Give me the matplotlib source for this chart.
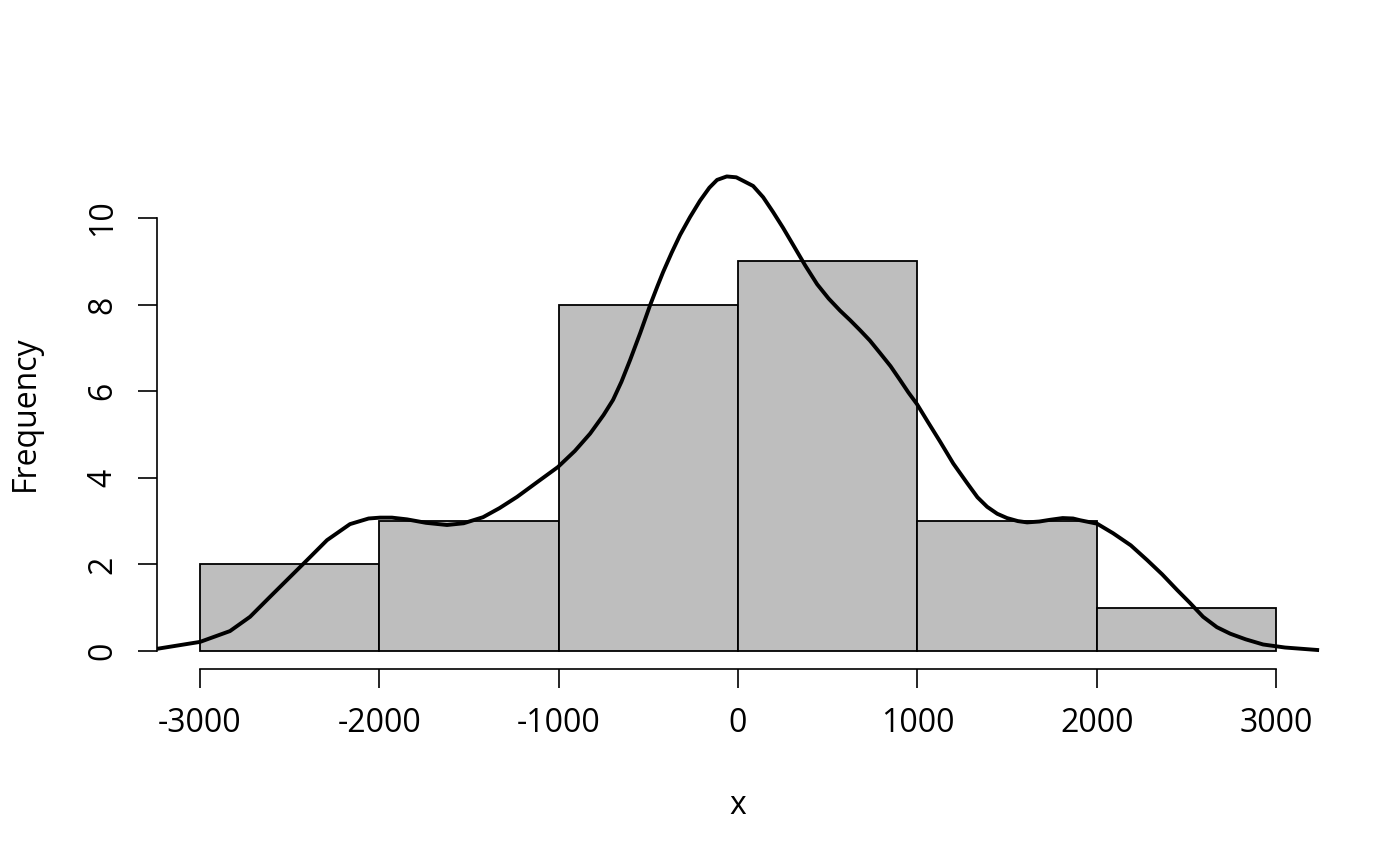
import matplotlib.pyplot as plt
import numpy as np

plt.rcParams['font.family'] = ['Open Sans', 'DejaVu Sans']

# histogram bins and counts
bin_edges = [-3000, -2000, -1000, 0, 1000, 2000, 3000]
counts = [2, 3, 8, 9, 3, 1]

# density curve (scaled to counts)
dens_x = [-3240, -3000, -2833, -2721, -2610, -2498, -2403, -2292, -2164, -2060,
          -1996, -1930, -1846, -1740, -1623, -1530, -1422, -1330, -1232, -1120,
          -1004, -910, -825, -750, -697, -650, -602, -545, -491, -450,
          -418, -370, -323, -268, -212, -160, -117, -63, -10, 28,
          84, 140, 195, 250, 307, 375, 441, 505, 569, 625,
          680, 735, 792, 850, 903, 950, 998, 1060, 1126, 1200,
          1277, 1335, 1389, 1445, 1500, 1560, 1612, 1680, 1740, 1810,
          1868, 1907, 2002, 2091, 2190, 2281, 2365, 2448, 2520, 2593,
          2670, 2744, 2830, 2928, 3050, 3240]
dens_y = [0.05, 0.21, 0.46, 0.79, 1.25, 1.71, 2.10, 2.56, 2.93, 3.06,
          3.08, 3.08, 3.04, 2.96, 2.91, 2.95, 3.09, 3.30, 3.56, 3.90,
          4.25, 4.62, 5.02, 5.45, 5.80, 6.22, 6.72, 7.35, 7.98, 8.42,
          8.75, 9.20, 9.61, 10.02, 10.40, 10.70, 10.88, 10.96, 10.94, 10.86,
          10.74, 10.48, 10.14, 9.78, 9.38, 8.90, 8.47, 8.14, 7.86, 7.64,
          7.41, 7.17, 6.88, 6.58, 6.26, 5.97, 5.70, 5.28, 4.84, 4.33,
          3.88, 3.55, 3.33, 3.17, 3.07, 3.00, 2.97, 2.99, 3.03, 3.07,
          3.06, 3.02, 2.94, 2.72, 2.44, 2.10, 1.77, 1.41, 1.11, 0.79,
          0.55, 0.40, 0.27, 0.15, 0.08, 0.02]

x_ticks = [-3000, -2000, -1000, 0, 1000, 2000, 3000]
y_ticks = [0, 2, 4, 6, 8, 10]

fig = plt.figure(figsize=(14, 8.66), dpi=100)
ax = fig.add_axes([157/1400, 1 - 669/866, (1320-157)/1400, (669-158)/866])

widths = np.diff(bin_edges)
ax.bar(bin_edges[:-1], counts, width=widths, align='edge',
       color='#bebebe', edgecolor='black', linewidth=1.3)
ax.plot(dens_x, dens_y, color='black', linewidth=2.8,
        solid_joinstyle='round', solid_capstyle='butt')

ax.set_xlim(-3240, 3245)
ax.set_ylim(-0.416, 11.386)

for s in ['top', 'right']:
    ax.spines[s].set_visible(False)
ax.spines['bottom'].set_bounds(-3000, 3000)
ax.spines['left'].set_bounds(0, 10)
ax.spines['bottom'].set_linewidth(1.2)
ax.spines['left'].set_linewidth(1.2)

ax.set_xticks(x_ticks)
ax.set_xticklabels([str(t) for t in x_ticks])
ax.set_yticks(y_ticks)
ax.set_yticklabels([str(t) for t in y_ticks], rotation=90, va='center')
ax.tick_params(axis='both', length=14, width=1.2, labelsize=23)
ax.tick_params(axis='x', pad=13)
ax.tick_params(axis='y', pad=13)

fig.text(738/1400, 1 - 805/866, 'x', ha='center', va='center', fontsize=23)
fig.text(25/1400, 1 - 413/866, 'Frequency', ha='center', va='center',
         rotation=90, fontsize=23)

fig.savefig('out.png', dpi=100)
